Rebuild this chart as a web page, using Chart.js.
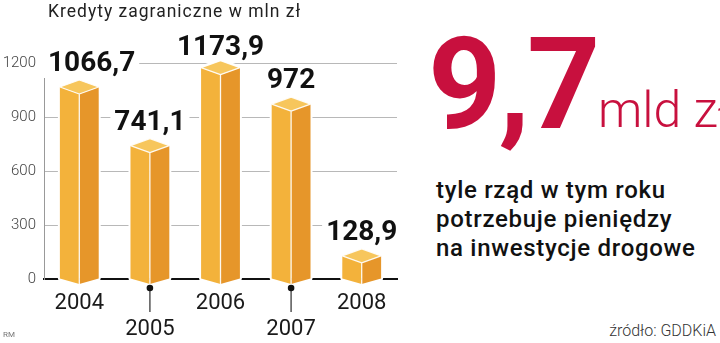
<!DOCTYPE html>
<html><head><meta charset="utf-8">
<script src="https://cdn.jsdelivr.net/npm/chart.js@4/dist/chart.umd.min.js"></script>
<style>
html,body{margin:0;padding:0;width:720px;height:343px;overflow:hidden;background:#fff;font-family:Roboto,sans-serif;}
#wrap{position:relative;width:720px;height:343px;overflow:hidden;}
#c{position:absolute;left:0;top:0;}
.t{position:absolute;white-space:nowrap;line-height:1;}
</style></head><body>
<div id="wrap">
<canvas id="c" width="400" height="343"></canvas>
<div class="t" style="left:48px;top:3px;font-size:17.5px;color:#222;letter-spacing:1px">Kredyty zagraniczne w mln zł</div>
<div class="t" style="left:428px;top:20px;font-size:128px;font-weight:700;color:#C8103E;letter-spacing:-3px">9,7</div>
<div class="t" style="left:598px;top:85px;font-size:50px;font-weight:300;color:#C8103E;">mld zł</div>
<div class="t" style="left:436px;top:176px;font-size:24px;font-weight:500;line-height:29px;color:#111;letter-spacing:0.7px">tyle rząd w tym roku<br>potrzebuje pieniędzy<br>na inwestycje drogowe</div>
<div class="t" style="right:4px;top:323px;font-size:16px;font-weight:300;color:#333">źródło: GDDKiA</div>
<div class="t" style="left:3px;top:331px;font-size:8px;color:#777">RM</div>
</div>
<script>
const years = ['2004', '2005', '2006', '2007', '2008'];
const credits = [1066.7, 741.1, 1173.9, 972, 128.9];
const yTicks = [0, 300, 600, 900, 1200];

const fmt = v => String(v).replace('.', ',');

function drawPrism(ctx, bar) {
  const w = bar.width, x = bar.x, y = bar.y, base = bar.base;
  const L = x - w / 2, R = x + w / 2, C = x;
  const d = 7, v = 5.5;
  ctx.beginPath();
  ctx.moveTo(L, y); ctx.lineTo(C, y - d); ctx.lineTo(R, y);
  ctx.lineTo(R, base); ctx.lineTo(C, base + v); ctx.lineTo(L, base); ctx.closePath();
  ctx.lineJoin = 'round';
  ctx.strokeStyle = '#fff'; ctx.lineWidth = 4; ctx.stroke();
  ctx.beginPath();
  ctx.moveTo(L, y); ctx.lineTo(C, y + d); ctx.lineTo(C, base + v); ctx.lineTo(L, base); ctx.closePath();
  ctx.fillStyle = '#F3B23B'; ctx.fill();
  ctx.beginPath();
  ctx.moveTo(C, y + d); ctx.lineTo(R, y); ctx.lineTo(R, base); ctx.lineTo(C, base + v); ctx.closePath();
  ctx.fillStyle = '#E6962A'; ctx.fill();
  ctx.beginPath();
  ctx.moveTo(L, y); ctx.lineTo(C, y - d); ctx.lineTo(R, y); ctx.lineTo(C, y + d); ctx.closePath();
  ctx.fillStyle = '#F7C65C'; ctx.fill();
  ctx.strokeStyle = 'rgba(255,255,255,0.9)'; ctx.lineWidth = 1.3;
  ctx.beginPath();
  ctx.moveTo(L, y); ctx.lineTo(C, y - d); ctx.lineTo(R, y); ctx.lineTo(C, y + d); ctx.closePath();
  ctx.moveTo(C, y + d); ctx.lineTo(C, base + v);
  ctx.stroke();
}

const prismPlugin = {
  id: 'prism',
  afterDatasetsDraw(chart) {
    const { ctx, chartArea } = chart;
    const meta = chart.getDatasetMeta(0);
    ctx.save();
    ctx.font = '700 28px Roboto';
    const labels = meta.data.map((bar, i) => {
      const txt = fmt(credits[i]);
      const w = ctx.measureText(txt).width;
      const x = Math.max(bar.x, chartArea.left + 4 + w / 2);
      const b = Math.max(bar.y - 16, 55);
      return { txt, w, x, b };
    });
    ctx.fillStyle = '#fff';
    labels.forEach(l => ctx.fillRect(l.x - l.w / 2 - 4, l.b - 23, l.w + 8, 30));
    meta.data.forEach(bar => drawPrism(ctx, bar));
    ctx.fillStyle = '#111';
    ctx.textAlign = 'center';
    ctx.textBaseline = 'alphabetic';
    labels.forEach(l => ctx.fillText(l.txt, l.x, l.b));
    const xs = chart.scales.x;
    const bottom = chartArea.bottom;
    years.forEach((yr, i) => {
      if (i % 2 === 1) {
        const px = xs.getPixelForTick(i);
        ctx.strokeStyle = '#555'; ctx.lineWidth = 1.5;
        ctx.beginPath(); ctx.moveTo(px, bottom + 9); ctx.lineTo(px, bottom + 33); ctx.stroke();
        ctx.fillStyle = '#111';
        ctx.beginPath(); ctx.arc(px, bottom + 9, 3.3, 0, Math.PI * 2); ctx.fill();
      }
    });
    ctx.restore();
  }
};

new Chart(document.getElementById('c'), {
  type: 'bar',
  data: {
    labels: years,
    datasets: [{
      data: credits,
      backgroundColor: 'rgba(0,0,0,0)',
      borderWidth: 0,
      barPercentage: 0.55,
      categoryPercentage: 1
    }]
  },
  options: {
    responsive: false,
    devicePixelRatio: 1,
    animation: false,
    events: [],
    layout: { padding: { left: 0, right: 3, top: 63, bottom: 0 } },
    plugins: { legend: { display: false }, title: { display: false }, tooltip: { enabled: false } },
    scales: {
      x: {
        grid: { display: false, drawTicks: false },
        border: { display: true, color: '#111', width: 2 },
        ticks: {
          padding: 11,
          color: '#1a1a1a',
          font: { family: 'Roboto', size: 22, weight: 400, lineHeight: 1.2 },
          maxRotation: 0, autoSkip: false,
          callback: (val, i) => (i % 2 ? ['', years[i]] : years[i])
        },
        afterFit: s => { s.height = 64; }
      },
      y: {
        min: 0, max: 1200,
        afterBuildTicks: s => { s.ticks = yTicks.map(v => ({ value: v })); },
        grid: {
          drawTicks: false,
          color: c => (c.tick && c.tick.value === 0 ? 'rgba(0,0,0,0)' : '#b8b8b8'),
          lineWidth: 1
        },
        border: { display: true, color: '#999', width: 1 },
        ticks: {
          padding: 8,
          color: '#444',
          font: { family: 'Roboto', size: 15, weight: 300 },
          callback: v => String(v)
        },
        afterFit: s => { s.width = 44; }
      }
    }
  },
  plugins: [prismPlugin]
});
</script>
</body></html>
